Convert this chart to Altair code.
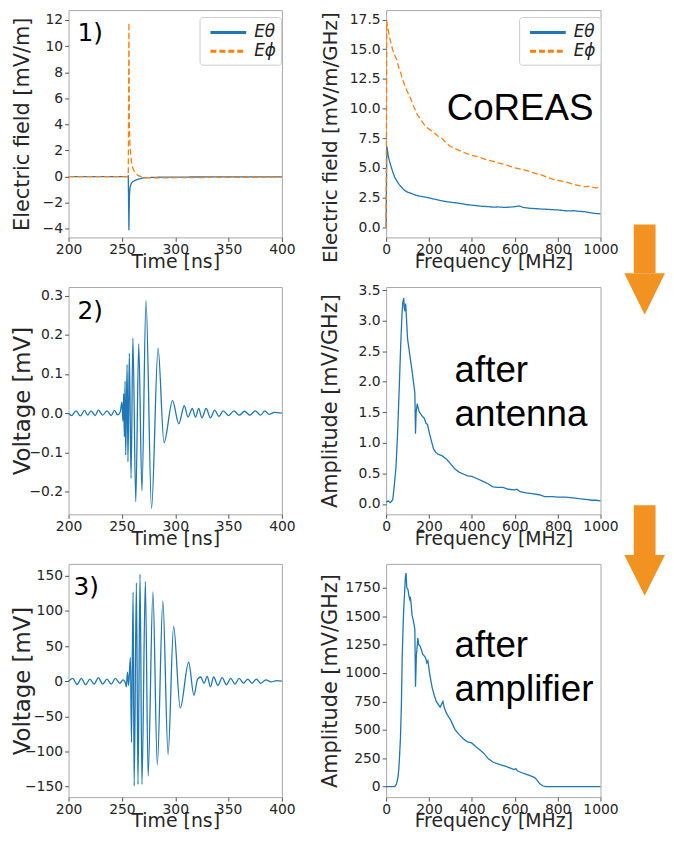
import altair as alt
import pandas as pd

# ---------------- data ----------------
comp_names = ["Eθ", "Eϕ"]

# 1) CoREAS electric field, time domain
t_field = [200, 250, 255, 256.0, 256.6, 257.0, 257.5, 258.0, 259.0, 260.0, 262.0, 265.0, 270.0, 280.0, 300.0, 350.0, 400.0]
e_theta_t = [0, 0, 0, 0.05, -4.1, -1.6, -0.9, -0.7, -0.5, -0.4, -0.3, -0.2, -0.1, -0.05, -0.03, -0.02, -0.02]
e_phi_t = [0, 0, 0, 0.1, 11.8, 4.0, 2.6, 2.0, 1.1, 0.7, 0.35, 0.1, -0.05, -0.1, -0.08, -0.05, -0.04]

# 1) CoREAS electric field, frequency domain
f_field = [0, 3, 6, 10, 15, 20, 30, 40, 50, 60, 70, 80, 90, 100, 115, 130, 145, 160, 175, 190,
           205, 220, 240, 260, 280, 300, 325, 350, 375, 400, 425, 450, 475, 500, 525, 550, 575, 600, 620, 640,
           675, 700, 725, 750, 775, 800, 825, 850, 875, 900, 925, 950, 975, 1000]
e_phi_f = [0, 17.4, 17.0, 16.6, 16.1, 15.7, 15.0, 14.5, 14.1, 13.4, 12.9, 12.3, 11.8, 11.4, 10.8, 10.1, 9.5, 9.1, 8.7, 8.4,
           8.2, 8.0, 7.7, 7.5, 7.1, 6.8, 6.6, 6.4, 6.2, 6.05, 5.95, 5.8, 5.65, 5.55, 5.4, 5.3, 5.15, 5.0, 4.92, 4.85,
           4.65, 4.5, 4.4, 4.2, 4.05, 3.95, 3.85, 3.75, 3.6, 3.5, 3.4, 3.45, 3.3, 3.35]
e_theta_f = [0, 6.8, 6.5, 6.0, 5.6, 5.3, 4.7, 4.2, 3.9, 3.6, 3.4, 3.2, 3.05, 2.95, 2.85, 2.75, 2.65, 2.6, 2.55, 2.5,
             2.45, 2.38, 2.3, 2.22, 2.15, 2.1, 2.05, 1.98, 1.9, 1.85, 1.8, 1.75, 1.73, 1.68, 1.7, 1.66, 1.68, 1.72, 1.78, 1.66,
             1.58, 1.55, 1.52, 1.5, 1.47, 1.45, 1.4, 1.36, 1.38, 1.33, 1.3, 1.22, 1.15, 1.12]

# 2) after antenna
t_ant = [200, 203, 207, 211, 215, 218, 221, 225, 228, 232, 236, 240, 243, 246, 248.5, 250, 251, 251.7, 252.3, 253.0,
         253.6, 254.9, 255.7, 257.0, 258.6, 260.3, 263.0, 265.8, 268.8, 272.6, 277.8, 283.9, 289.5, 297.5, 303.3, 308.5,
         312, 316, 319, 322, 325, 329, 333, 337, 341, 345, 350, 355, 360, 365, 370, 375, 380, 384, 388, 393, 400]
v_ant = [0.0, -0.006, 0.006, -0.007, 0.007, -0.005, 0.006, -0.006, 0.008, -0.005, 0.006, -0.006, 0.007, -0.004, 0.004,
         0.028, -0.02, 0.05, -0.06, 0.082, -0.107, 0.124, -0.124, 0.153, -0.166, 0.191, -0.226, 0.177, -0.198, 0.288,
         -0.243, 0.166, -0.075, 0.032, -0.027, 0.019, -0.01, 0.012, -0.01, 0.012, -0.012, 0.012, -0.012, 0.008, -0.008,
         0.006, -0.006, 0.006, -0.005, 0.005, -0.005, 0.006, -0.005, 0.006, -0.003, 0.002, 0.0]
f_ant = [0, 10, 18, 25, 31, 38, 46, 54, 62, 68, 74, 78, 82, 85, 88, 91, 94, 100, 108, 116,
         122, 128, 134, 137, 140, 145, 150, 155, 162, 170, 178, 186, 193, 202, 212, 221, 232, 244, 260, 282,
         300, 321, 340, 360, 380, 400, 420, 452, 475, 498, 520, 545, 570, 599, 610, 625, 653, 680, 714, 740,
         776, 800, 838, 870, 900, 930, 961, 980, 1000]
a_ant = [0.03, 0.05, 0.02, 0.04, 0.07, 0.3, 0.6, 1.2, 1.98, 2.6, 3.1, 3.3, 3.37, 3.2, 3.15, 3.28, 3.1, 2.7, 2.5, 2.3,
         2.15, 1.98, 1.82, 1.15, 1.5, 1.64, 1.56, 1.5, 1.47, 1.43, 1.4, 1.32, 1.3, 1.16, 1.02, 0.9, 0.84, 0.81, 0.79, 0.73,
         0.66, 0.57, 0.52, 0.49, 0.46, 0.45, 0.42, 0.37, 0.33, 0.28, 0.27, 0.27, 0.24, 0.23, 0.24, 0.2, 0.18, 0.17, 0.15, 0.12,
         0.12, 0.11, 0.11, 0.1, 0.085, 0.075, 0.06, 0.06, 0.05]

# 3) after amplifier
t_amp = [200, 204, 208, 212, 216, 220, 224, 228, 232, 236, 240, 244, 248, 251, 253, 254.2, 255.2, 256.3, 257.0, 258.0,
         259.0, 260.5, 261.5, 263.6, 265.1, 267.0, 268.8, 272.0, 274.6, 279.1, 283.2, 288.4, 293.3, 298.5, 304.7, 312.6,
         317.5, 321, 324, 327, 330, 333, 336, 340, 344, 348, 352, 356, 360, 364, 368, 372, 376, 380, 385, 390, 395, 400]
v_amp = [0, 4, -5, 4, -5, 3, -4, 5, -4, 3, -4, 4, -3, 2, -1, -8, 13, -6, 10, 34,
         -87, 127, -149, 140, -147, 152, -147, 142, -135, 127, -119, 114, -104, 78, -38, 27,
         -20, 3, 6, -3, 7, -8, 6, -6, 5, -5, 4, -4, 4, -3, 3, -3, 3, -3, 2, -1, 1, 0]
f_amp = [0, 36, 42, 48, 55, 59, 63, 67, 71, 75, 79, 82, 86, 90, 93, 96, 99, 102, 106, 110,
         113, 117, 121, 126, 131, 134, 137, 141, 148, 152, 158, 165, 171, 178, 185, 190, 195, 203, 215, 225,
         234, 252, 265, 272, 283, 300, 322, 340, 361, 380, 399, 420, 438, 455, 477, 500, 531, 555, 577, 596,
         605, 612, 630, 655, 680, 693, 705, 717, 730, 745, 1000]
a_amp = [0, 0, 5, 23, 80, 150, 280, 440, 700, 1136, 1400, 1560, 1700, 1850, 1880, 1760, 1740, 1735, 1680, 1650,
         1670, 1600, 1507, 1470, 1421, 1380, 880, 1150, 1307, 1250, 1240, 1200, 1164, 1150, 1130, 1090, 1108, 993, 870, 800,
         750, 700, 750, 690, 640, 590, 500, 460, 420, 395, 385, 350, 323, 295, 245, 215, 194, 180, 166, 150,
         160, 140, 125, 108, 90, 80, 55, 25, 8, 0, 0]

# axis domains and ticks
time_domain = [200, 400]
freq_domain = [0, 1000]
time_ticks = [200, 250, 300, 350, 400]
freq_ticks = [0, 200, 400, 600, 800, 1000]
dom_1L = [-4.65, 12.75]
dom_1R = [-0.87, 18.3]
dom_2L = [-0.258, 0.322]
dom_2R = [-0.17, 3.55]
dom_3L = [-165, 167]
dom_3R = [-92, 1960]
ticks_1L = [-4, -2, 0, 2, 4, 6, 8, 10, 12]
ticks_1R = [0, 2.5, 5, 7.5, 10, 12.5, 15, 17.5]
ticks_2L = [-0.2, -0.1, 0.0, 0.1, 0.2, 0.3]
ticks_2R = [0, 0.5, 1.0, 1.5, 2.0, 2.5, 3.0, 3.5]
ticks_3L = [-150, -100, -50, 0, 50, 100, 150]
ticks_3R = [0, 250, 500, 750, 1000, 1250, 1500, 1750]

# arrows (in the arrow strip's own units: px from its left / top)
arrow_id = ["a1", "a2"]
shaft_left = [13.5, 13.5]
shaft_right = [35.5, 35.5]
shaft_top = [216, 499]
head_base = [265, 549]
head_tip = [307, 590]
head_left = [4, 4]
head_mid = [24.5, 24.5]
head_right = [45, 45]

# ---------------- layout ----------------
W_L, W_R = 215, 216
H1, H2, H3 = 229, 229, 235
VGAP = 50
ARW = 45
TOTAL_H = H1 + H2 + H3 + 2 * VGAP
COL_GAP = 23
ARROW_GAP = 0

C0, C1 = "#1f77b4", "#ff7f0e"
ORANGE = "#F29321"


def xax(title, values, w):
    return alt.Axis(title=title, values=values, format="d", titleX=w / 2, titleY=30,
                    titleAlign="center", titleBaseline="alphabetic", labelFlush=False,
                    labelOverlap=False, labelPadding=1, grid=False)


def yax(title, values, fmt, tx, ty, fs):
    return alt.Axis(title=title, values=values, format=fmt, titleX=tx, titleY=ty, titleAngle=270,
                    titleAlign="center", titleBaseline="bottom", titleLimit=500, titleFontSize=fs,
                    labelOverlap=False, grid=False)


def label_text(s, x, y, size, font):
    return alt.Chart(pd.DataFrame({"s": [s]})).mark_text(
        align="left", baseline="alphabetic", font=font, fontSize=size, color="black"
    ).encode(x=alt.value(x), y=alt.value(y), text="s:N")


def multi_text(lines, x, y, size):
    return alt.Chart(pd.DataFrame({"s": [lines]})).mark_text(
        align="left", baseline="alphabetic", font="Liberation Sans", fontSize=size,
        lineHeight=44, color="black"
    ).encode(x=alt.value(x), y=alt.value(y), text="s:N")


def legend(lx):
    return alt.Legend(title=None, orient="none", legendX=lx, legendY=7,
                      symbolType="M-0.5,0L3.5,0", symbolSize=324, symbolStrokeWidth=3,
                      labelFont="DejaVu Sans", labelFontSize=17,
                      labelFontStyle="italic", labelColor="#222222", padding=5, strokeColor="#cccccc",
                      cornerRadius=3, fillColor="white", rowPadding=0, labelOffset=29)


def comp_enc(lx):
    lg = legend(lx)
    return dict(
        color=alt.Color("comp:N", scale=alt.Scale(domain=comp_names, range=[C0, C1]), legend=lg),
        strokeDash=alt.StrokeDash("comp:N", scale=alt.Scale(domain=comp_names, range=[[1, 0], [6, 3]]), legend=lg),
    )


# panel 1L
df1L = pd.DataFrame({"t": t_field + t_field, "v": e_theta_t + e_phi_t,
                     "comp": [comp_names[0]] * len(t_field) + [comp_names[1]] * len(t_field)})
p1L = alt.layer(
    alt.Chart(df1L).mark_line(strokeWidth=1.3).encode(
        x=alt.X("t:Q", scale=alt.Scale(domain=time_domain, nice=False, zero=False), axis=xax("Time [ns]", time_ticks, W_L)),
        y=alt.Y("v:Q", scale=alt.Scale(domain=dom_1L, nice=False, zero=False),
                axis=yax("Electric field [mV/m]", ticks_1L, "d", -36, H1 / 2, 21)),
        **comp_enc(132)),
    label_text("1)", 9, 31, 25, "DejaVu Sans"),
).properties(width=W_L, height=H1)

# panel 1R
df1R = pd.DataFrame({"f": f_field + f_field, "v": e_theta_f + e_phi_f,
                     "comp": [comp_names[0]] * len(f_field) + [comp_names[1]] * len(f_field)})
p1R = alt.layer(
    alt.Chart(df1R).mark_line(strokeWidth=1.3).encode(
        x=alt.X("f:Q", scale=alt.Scale(domain=freq_domain, nice=False, zero=False), axis=xax("Frequency [MHz]", freq_ticks, W_R)),
        y=alt.Y("v:Q", scale=alt.Scale(domain=dom_1R, nice=False, zero=False),
                axis=yax("Electric field [mV/m/GHz]", ticks_1R, ".1f", -46, 128, 20)),
        **comp_enc(134)),
    label_text("CoREAS", 61, 111, 37, "Liberation Sans"),
).properties(width=W_R, height=H1)

# panel 2L
df2L = pd.DataFrame({"t": t_ant, "v": v_ant})
p2L = alt.layer(
    alt.Chart(df2L).mark_line(strokeWidth=1.3, color=C0, interpolate="monotone").encode(
        x=alt.X("t:Q", scale=alt.Scale(domain=time_domain, nice=False, zero=False), axis=xax("Time [ns]", time_ticks, W_L)),
        y=alt.Y("v:Q", scale=alt.Scale(domain=dom_2L, nice=False, zero=False),
                axis=yax("Voltage [mV]", ticks_2L, ".1f", -34, H2 / 2, 23))),
    label_text("2)", 9, 32, 25, "DejaVu Sans"),
).properties(width=W_L, height=H2)

# panel 2R
df2R = pd.DataFrame({"f": f_ant, "v": a_ant})
p2R = alt.layer(
    alt.Chart(df2R).mark_line(strokeWidth=1.3, color=C0).encode(
        x=alt.X("f:Q", scale=alt.Scale(domain=freq_domain, nice=False, zero=False), axis=xax("Frequency [MHz]", freq_ticks, W_R)),
        y=alt.Y("v:Q", scale=alt.Scale(domain=dom_2R, nice=False, zero=False),
                axis=yax("Amplitude [mV/GHz]", ticks_2R, ".1f", -46, H2 / 2, 21))),
    multi_text(["after", "antenna"], 69, 96, 37),
).properties(width=W_R, height=H2)

# panel 3L
df3L = pd.DataFrame({"t": t_amp, "v": v_amp})
p3L = alt.layer(
    alt.Chart(df3L).mark_line(strokeWidth=1.3, color=C0, interpolate="monotone").encode(
        x=alt.X("t:Q", scale=alt.Scale(domain=time_domain, nice=False, zero=False), axis=xax("Time [ns]", time_ticks, W_L)),
        y=alt.Y("v:Q", scale=alt.Scale(domain=dom_3L, nice=False, zero=False),
                axis=yax("Voltage [mV]", ticks_3L, "d", -34, H3 / 2, 23))),
    label_text("3)", 5, 31, 25, "DejaVu Sans"),
).properties(width=W_L, height=H3)

# panel 3R
df3R = pd.DataFrame({"f": f_amp, "v": a_amp})
p3R = alt.layer(
    alt.Chart(df3R).mark_line(strokeWidth=1.3, color=C0).encode(
        x=alt.X("f:Q", scale=alt.Scale(domain=freq_domain, nice=False, zero=False), axis=xax("Frequency [MHz]", freq_ticks, W_R)),
        y=alt.Y("v:Q", scale=alt.Scale(domain=dom_3R, nice=False, zero=False),
                axis=yax("Amplitude [mV/GHz]", ticks_3R, "d", -46, H3 / 2, 21))),
    multi_text(["after", "amplifier"], 69, 94, 37),
).properties(width=W_R, height=H3)

# arrow strip
shaft_df = pd.DataFrame({"id": arrow_id, "l": shaft_left, "r": shaft_right, "top": shaft_top, "bot": head_base})
head_rows = []
for i in range(len(arrow_id)):
    head_rows.append({"id": arrow_id[i], "x": head_left[i], "y": head_base[i], "y2": head_base[i]})
    head_rows.append({"id": arrow_id[i], "x": head_mid[i], "y": head_base[i], "y2": head_tip[i]})
    head_rows.append({"id": arrow_id[i], "x": head_right[i], "y": head_base[i], "y2": head_base[i]})
head_df = pd.DataFrame(head_rows)

ax_x = alt.Scale(domain=[0, ARW], nice=False, zero=False)
ax_y = alt.Scale(domain=[0, TOTAL_H], reverse=True, nice=False, zero=False)
arrows = alt.layer(
    alt.Chart(shaft_df).mark_rect(color=ORANGE).encode(
        x=alt.X("l:Q", scale=ax_x, axis=None), x2="r:Q",
        y=alt.Y("top:Q", scale=ax_y, axis=None), y2="bot:Q"),
    alt.Chart(head_df).mark_area(color=ORANGE, opacity=1).encode(
        x=alt.X("x:Q", scale=ax_x, axis=None),
        y=alt.Y("y:Q", scale=ax_y, axis=None), y2="y2:Q", detail="id:N"),
).properties(width=ARW, height=TOTAL_H, view=alt.ViewBackground(stroke="transparent"))

colL = alt.vconcat(p1L, p2L, p3L, spacing=VGAP, bounds="flush")
colR = alt.vconcat(p1R, p2R, p3R, spacing=VGAP, bounds="flush")
right = alt.hconcat(colR, arrows, spacing=ARROW_GAP)

chart = alt.hconcat(colL, right, spacing=COL_GAP).resolve_scale(
    color="independent", strokeDash="independent"
).resolve_legend(
    color="independent", strokeDash="independent"
).properties(
    padding={"left": 3, "top": -2, "right": 0, "bottom": 0}
).configure_view(
    stroke="#a8a8a8", strokeWidth=1
).configure_axis(
    labelFont="DejaVu Sans", labelFontSize=14, labelColor="#262626",
    titleFont="DejaVu Sans", titleFontSize=19, titleFontWeight="normal", titleColor="#262626",
    tickColor="#555555", tickSize=4, labelPadding=2, domain=False, grid=False
)

chart.save("out.html", embed_options={"renderer": "svg", "actions": False})
